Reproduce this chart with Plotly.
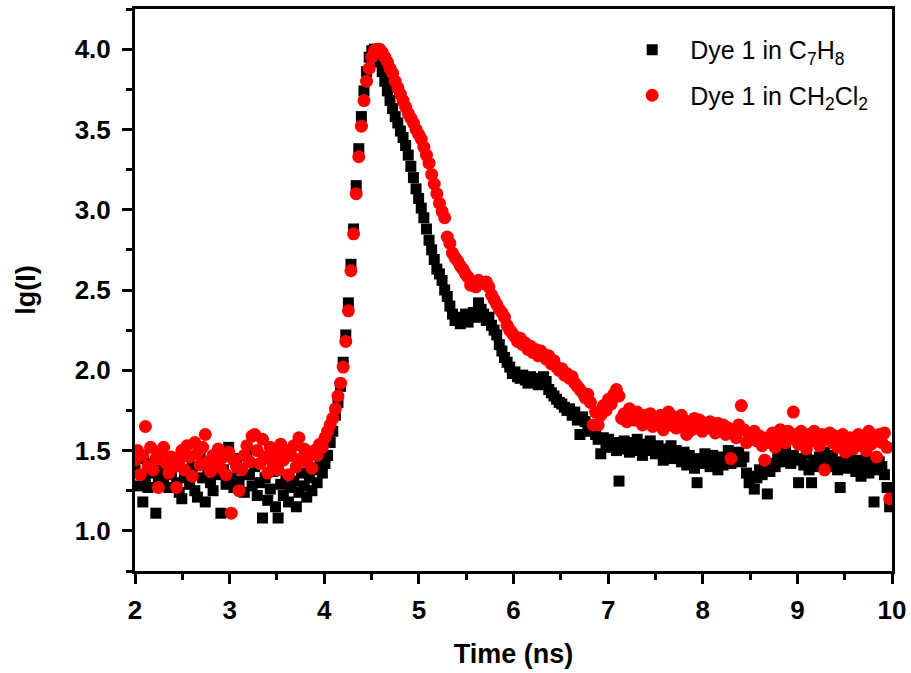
import plotly.graph_objects as go

# Time grid (ns): uniform TCSPC channels
t_start = 2.0
t_step = 0.0275
n_points = 291
time_ns = [round(t_start + t_step * i, 4) for i in range(n_points)]

# lg(I) for Dye 1 in C7H8 (black squares)
lg_c7h8 = [
    1.40, 1.28, 1.45, 1.18, 1.33, 1.27, 1.42, 1.36, 1.11, 1.30,
    1.38, 1.32, 1.41, 1.27, 1.35, 1.44, 1.30, 1.24, 1.20, 1.33,
    1.37, 1.29, 1.40, 1.25, 1.21, 1.48, 1.33, 1.18, 1.36, 1.30,
    1.25, 1.42, 1.35, 1.11, 1.38, 1.29, 1.52, 1.33, 1.27, 1.45,
    1.31, 1.39, 1.24, 1.47, 1.35, 1.28, 1.40, 1.22, 1.30, 1.08,
    1.33, 1.19, 1.26, 1.37, 1.15, 1.08, 1.29, 1.22, 1.34, 1.18,
    1.27, 1.31, 1.15, 1.24, 1.36, 1.28, 1.21, 1.33, 1.25, 1.38,
    1.30, 1.40, 1.36, 1.42, 1.47, 1.55, 1.62, 1.72, 1.80, 1.90,
    2.05, 2.22, 2.42, 2.66, 2.88, 3.15, 3.38, 3.58, 3.74, 3.86,
    3.95, 3.99, 4.00, 3.97, 3.92, 3.86, 3.80, 3.74, 3.68, 3.63,
    3.58, 3.54, 3.49, 3.45, 3.40, 3.34, 3.27, 3.20, 3.13, 3.07,
    3.01, 2.95, 2.88, 2.81, 2.75, 2.69, 2.63, 2.60, 2.56, 2.50,
    2.46, 2.40, 2.35, 2.31, 2.33, 2.29, 2.32, 2.35, 2.30, 2.34,
    2.36, 2.33, 2.42, 2.38, 2.35, 2.31, 2.33, 2.28, 2.25, 2.22,
    2.16, 2.12, 2.08, 2.05, 2.02, 1.98, 1.99, 1.96, 1.95, 1.97,
    1.94, 1.92, 1.96, 1.93, 1.94, 1.91, 1.95, 1.96, 1.93, 1.88,
    1.86, 1.84, 1.82, 1.80, 1.79, 1.77, 1.75, 1.76, 1.72, 1.74,
    1.69, 1.60, 1.71, 1.68, 1.66, 1.62, 1.64, 1.60, 1.57, 1.48,
    1.58, 1.54, 1.57, 1.52, 1.55, 1.50, 1.31, 1.53, 1.56, 1.51,
    1.49, 1.55, 1.50, 1.57, 1.52, 1.47, 1.54, 1.50, 1.56, 1.52,
    1.48, 1.53, 1.50, 1.44, 1.51, 1.47, 1.53, 1.45, 1.50, 1.46,
    1.43, 1.49, 1.41, 1.47, 1.44, 1.39, 1.30, 1.45, 1.42, 1.48,
    1.45, 1.40, 1.47, 1.43, 1.38, 1.46, 1.41, 1.44, 1.50, 1.42,
    1.47, 1.44, 1.49, 1.43, 1.46, 1.36, 1.30, 1.34, 1.26, 1.33,
    1.38, 1.35, 1.40, 1.23, 1.37, 1.42, 1.40, 1.45, 1.48, 1.43,
    1.50, 1.46, 1.42, 1.47, 1.44, 1.30, 1.45, 1.41, 1.48, 1.38,
    1.30, 1.44, 1.40, 1.46, 1.42, 1.49, 1.45, 1.40, 1.47, 1.43,
    1.38, 1.27, 1.41, 1.44, 1.39, 1.46, 1.42, 1.37, 1.44, 1.34,
    1.40, 1.45, 1.36, 1.41, 1.18, 1.38, 1.43, 1.40, 1.35, 1.27,
    1.15,
]

# lg(I) for Dye 1 in CH2Cl2 (red circles)
lg_ch2cl2 = [
    1.44, 1.50, 1.35, 1.47, 1.65, 1.40, 1.52, 1.38, 1.45, 1.27,
    1.49, 1.52, 1.42, 1.36, 1.46, 1.40, 1.27, 1.44, 1.50, 1.38,
    1.53, 1.46, 1.34, 1.55, 1.48, 1.41, 1.52, 1.60, 1.43, 1.37,
    1.47, 1.42, 1.51, 1.39, 1.46, 1.35, 1.49, 1.11, 1.44, 1.40,
    1.25, 1.38, 1.47, 1.53, 1.43, 1.59, 1.60, 1.50, 1.42, 1.57,
    1.46, 1.36, 1.52, 1.41, 1.48, 1.38, 1.54, 1.44, 1.50, 1.35,
    1.47, 1.53, 1.40, 1.58, 1.45, 1.51, 1.43, 1.48, 1.39, 1.50,
    1.47, 1.54, 1.52, 1.58, 1.62, 1.66, 1.70, 1.76, 1.84, 1.92,
    2.02, 2.18, 2.37, 2.62, 2.85, 3.10, 3.33, 3.52, 3.68, 3.80,
    3.88, 3.95, 3.99, 4.00, 4.00, 3.98, 3.95, 3.92, 3.88, 3.85,
    3.80, 3.76, 3.72, 3.68, 3.64, 3.60, 3.57, 3.54, 3.50, 3.47,
    3.44, 3.39, 3.34, 3.29, 3.22, 3.16, 3.10, 3.04, 2.99, 2.95,
    2.83, 2.79, 2.73, 2.70, 2.68, 2.65, 2.63, 2.60, 2.58, 2.53,
    2.55, 2.52, 2.56, 2.55, 2.54, 2.55, 2.52, 2.47, 2.44, 2.41,
    2.38, 2.36, 2.33, 2.28, 2.25, 2.23, 2.21, 2.18, 2.20, 2.16,
    2.17, 2.13, 2.15, 2.11, 2.13, 2.09, 2.12, 2.10, 2.07, 2.09,
    2.04, 2.06, 2.02, 2.00, 2.01, 1.97, 1.98, 1.95, 1.96, 1.92,
    1.90, 1.88, 1.86, 1.83, 1.85, 1.80, 1.66, 1.74, 1.66, 1.72,
    1.78, 1.75, 1.82, 1.79, 1.85, 1.88, 1.84, 1.70, 1.73, 1.68,
    1.76, 1.72, 1.69, 1.74, 1.70, 1.66, 1.72, 1.68, 1.73, 1.65,
    1.70, 1.67, 1.72, 1.63, 1.69, 1.74, 1.66, 1.71, 1.64, 1.68,
    1.72, 1.65, 1.60, 1.68, 1.63, 1.70, 1.66, 1.69, 1.62, 1.67,
    1.64, 1.68, 1.65, 1.61, 1.67, 1.63, 1.66, 1.60, 1.64, 1.45,
    1.62, 1.58, 1.66, 1.78, 1.63, 1.55, 1.60, 1.57, 1.62, 1.56,
    1.59, 1.53, 1.44, 1.58, 1.55, 1.61, 1.52, 1.57, 1.63, 1.59,
    1.55, 1.62, 1.58, 1.74, 1.60, 1.54, 1.62, 1.57, 1.51, 1.60,
    1.56, 1.62, 1.58, 1.53, 1.60, 1.38, 1.57, 1.61, 1.55, 1.59,
    1.52, 1.56, 1.60, 1.49, 1.54, 1.58, 1.51, 1.55, 1.60, 1.53,
    1.57, 1.50, 1.62, 1.54, 1.58, 1.46, 1.60, 1.55, 1.61, 1.52,
    1.20,
]

series_names = ["Dye 1 in C<sub>7</sub>H<sub>8</sub>",
                "Dye 1 in CH<sub>2</sub>Cl<sub>2</sub>"]
x_ticks = [2, 3, 4, 5, 6, 7, 8, 9, 10]
y_ticks = [1.0, 1.5, 2.0, 2.5, 3.0, 3.5, 4.0]

fig = go.Figure()
fig.add_trace(go.Scatter(
    x=time_ns, y=lg_c7h8, mode="markers", name=series_names[0],
    legendgroup="g1",
    marker=dict(symbol="square", size=11, color="#000000", line=dict(width=0)),
))
fig.add_trace(go.Scatter(
    x=time_ns, y=lg_ch2cl2, mode="markers", name=series_names[1],
    legendgroup="g2",
    marker=dict(symbol="circle", size=13, color="#ff0000", line=dict(width=0)),
))

tickfont = dict(family="Liberation Sans, Arial, sans-serif", size=26, color="#000000", weight="bold")
titlefont = dict(family="Liberation Sans, Arial, sans-serif", size=27, color="#000000", weight="bold")

fig.update_xaxes(
    range=[2, 10], tickvals=x_ticks, ticktext=[str(v) for v in x_ticks],
    showline=True, linewidth=3, linecolor="#000000", mirror=True,
    ticks="outside", ticklen=10, tickwidth=3, tickcolor="#000000",
    minor=dict(ticks="outside", ticklen=6, tickwidth=3, tickcolor="#000000", dtick=0.5, tick0=2),
    showgrid=False, zeroline=False, tickfont=tickfont,
    ticklabelstandoff=4,
    title=dict(text="Time (ns)", font=titlefont, standoff=20),
    automargin=False,
)
fig.update_yaxes(
    range=[0.75, 4.25], tickvals=y_ticks, ticktext=[f"{v:.1f}" for v in y_ticks],
    showline=True, linewidth=3, linecolor="#000000", mirror=True,
    ticks="outside", ticklen=10, tickwidth=3, tickcolor="#000000",
    minor=dict(ticks="outside", ticklen=6, tickwidth=3, tickcolor="#000000", dtick=0.25, tick0=0.75),
    showgrid=False, zeroline=False, tickfont=tickfont,
    ticklabelstandoff=6,
    title=dict(text="lg(I)", font=titlefont, standoff=32),
    automargin=False,
)

fig.update_layout(
    width=911, height=673,
    margin=dict(l=135, r=19, t=9, b=102),
    paper_bgcolor="#ffffff", plot_bgcolor="#ffffff",
    showlegend=True,
    legend=dict(
        x=0.633, y=0.968, xanchor="left", yanchor="top",
        bgcolor="rgba(0,0,0,0)", borderwidth=0,
        font=dict(family="Liberation Sans, Arial, sans-serif", size=25, color="#000000"),
        itemwidth=66, traceorder="grouped", tracegroupgap=10,
    ),
)

fig.write_html("out.html")
